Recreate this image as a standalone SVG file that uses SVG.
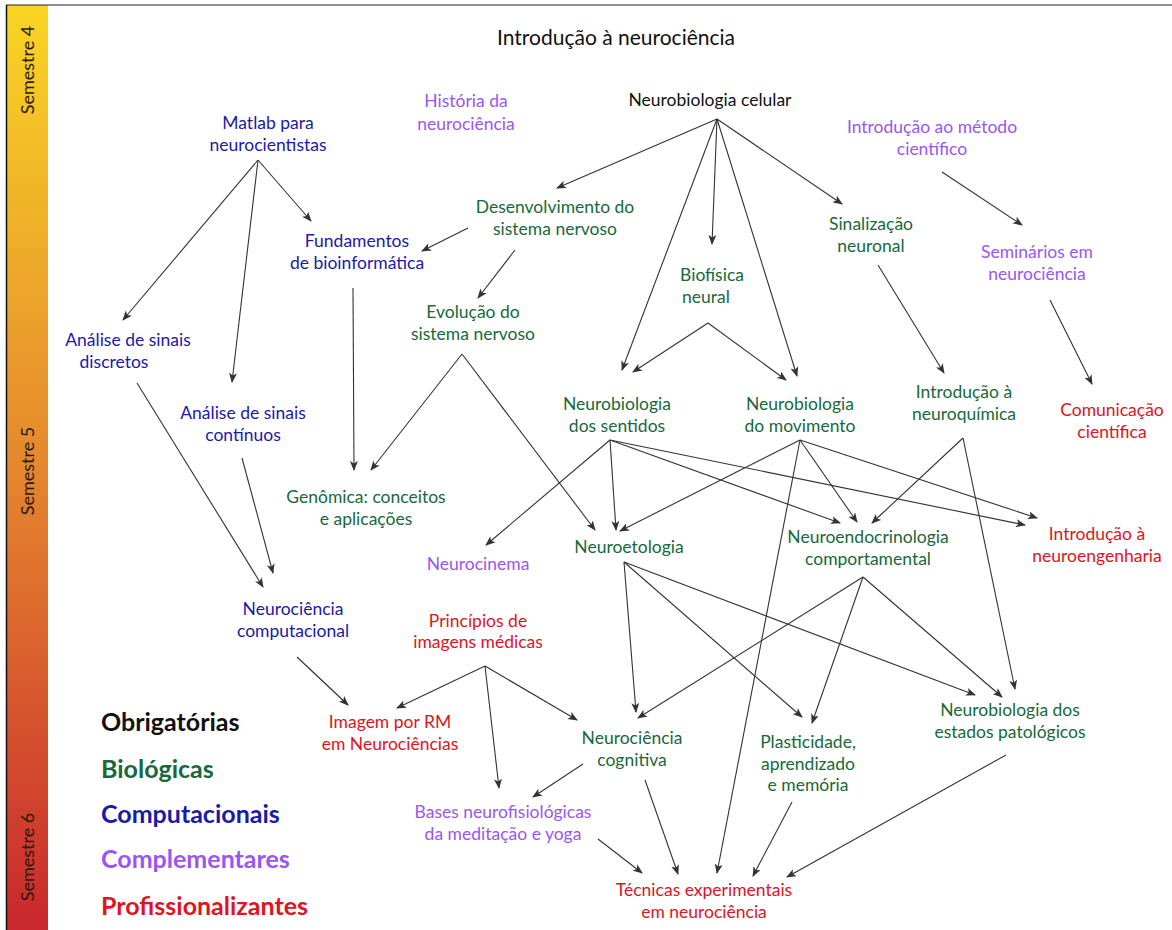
<svg xmlns="http://www.w3.org/2000/svg" width="1172" height="930" viewBox="0 0 1172 930">
<defs>
<linearGradient id="sem" x1="0" y1="0" x2="0" y2="1">
<stop offset="0" stop-color="#F9D524"/>
<stop offset="0.5" stop-color="#E5872E"/>
<stop offset="1" stop-color="#C9282D"/>
</linearGradient>
<marker id="ah" viewBox="0 0 10 8" refX="9" refY="4" markerWidth="10" markerHeight="8" markerUnits="userSpaceOnUse" orient="auto">
<path d="M0,0 L10,4 L0,8 L2.5,4 z" fill="#333"/>
</marker>
<style>
text{font-family:"Lato","Liberation Sans",sans-serif;font-size:17.5px;text-anchor:middle}
.t{fill:#111;font-size:21px}
.k{fill:#111}
.g{fill:#17693A}
.b{fill:#1A1AA8}
.p{fill:#9B55F5}
.r{fill:#E0141E}
.sem{fill:#2a1a10;font-size:18px}
.leg{font-size:25px;font-weight:bold;text-anchor:start}
#edges line{stroke:#333;stroke-width:1.1;marker-end:url(#ah)}
</style>
</defs>
<rect x="0" y="0" width="1172" height="930" fill="#fff"/>
<rect x="7" y="5" width="41" height="925" fill="url(#sem)"/>
<line x1="6.5" y1="5" x2="6.5" y2="930" stroke="#111" stroke-width="1.5"/>
<line x1="6" y1="5" x2="1172" y2="5" stroke="#222" stroke-width="1"/>
<text class="sem" transform="translate(34,70) rotate(-90)">Semestre 4</text>
<text class="sem" transform="translate(34,471) rotate(-90)">Semestre 5</text>
<text class="sem" transform="translate(34,857) rotate(-90)">Semestre 6</text>

<g id="edges">
<line x1="717" y1="119" x2="557" y2="188"/>
<line x1="717" y1="119" x2="622" y2="370"/>
<line x1="717" y1="119" x2="712" y2="244"/>
<line x1="717" y1="119" x2="797" y2="376"/>
<line x1="717" y1="119" x2="842" y2="204"/>
<line x1="258" y1="160" x2="123" y2="320"/>
<line x1="258" y1="160" x2="232" y2="382"/>
<line x1="258" y1="160" x2="311" y2="221"/>
<line x1="468" y1="228" x2="422" y2="251"/>
<line x1="515" y1="250" x2="478" y2="298"/>
<line x1="353" y1="288" x2="354" y2="470"/>
<line x1="462" y1="354" x2="371" y2="470"/>
<line x1="462" y1="354" x2="595" y2="530"/>
<line x1="708" y1="323" x2="633" y2="372"/>
<line x1="708" y1="323" x2="786" y2="380"/>
<line x1="878" y1="265" x2="944" y2="373"/>
<line x1="942" y1="172" x2="1022" y2="225"/>
<line x1="1050" y1="300" x2="1092" y2="384"/>
<line x1="137" y1="383" x2="263" y2="587"/>
<line x1="242" y1="458" x2="273" y2="573"/>
<line x1="610" y1="440" x2="486" y2="545"/>
<line x1="610" y1="440" x2="616" y2="530"/>
<line x1="610" y1="440" x2="840" y2="523"/>
<line x1="610" y1="440" x2="1025" y2="525"/>
<line x1="800" y1="440" x2="620" y2="531"/>
<line x1="800" y1="440" x2="857" y2="522"/>
<line x1="800" y1="440" x2="1037" y2="518"/>
<line x1="800" y1="440" x2="717" y2="873"/>
<line x1="963" y1="438" x2="872" y2="523"/>
<line x1="963" y1="438" x2="1015" y2="689"/>
<line x1="624" y1="562" x2="636" y2="712"/>
<line x1="624" y1="562" x2="802" y2="717"/>
<line x1="624" y1="562" x2="975" y2="695"/>
<line x1="863" y1="577" x2="638" y2="718"/>
<line x1="863" y1="577" x2="812" y2="723"/>
<line x1="863" y1="577" x2="1002" y2="697"/>
<line x1="297" y1="657" x2="348" y2="705"/>
<line x1="485" y1="666" x2="397" y2="708"/>
<line x1="485" y1="666" x2="499" y2="788"/>
<line x1="485" y1="666" x2="577" y2="720"/>
<line x1="583" y1="764" x2="533" y2="797"/>
<line x1="598" y1="839" x2="642" y2="873"/>
<line x1="645" y1="780" x2="678" y2="874"/>
<line x1="792" y1="802" x2="753" y2="876"/>
<line x1="1006" y1="755" x2="787" y2="877"/>
</g>

<g id="title"><text class="t" x="616" y="45">Introdução à neurociência</text></g>
<g id="celular"><text class="k" x="710" y="106">Neurobiologia celular</text></g>
<g id="historia"><text class="p" x="466" y="107">História da</text><text class="p" x="466" y="130">neurociência</text></g>
<g id="matlab"><text class="b" x="268" y="129">Matlab para</text><text class="b" x="268" y="151">neurocientistas</text></g>
<g id="metodo"><text class="p" x="932" y="133">Introdução ao método</text><text class="p" x="932" y="155">científico</text></g>
<g id="desenvolvimento"><text class="g" x="555" y="213">Desenvolvimento do</text><text class="g" x="555" y="235">sistema nervoso</text></g>
<g id="fundamentos"><text class="b" x="357" y="247">Fundamentos</text><text class="b" x="357" y="269">de bioinformática</text></g>
<g id="sinalizacao"><text class="g" x="871" y="230">Sinalização</text><text class="g" x="871" y="252">neuronal</text></g>
<g id="biofisica"><text class="g" x="712" y="281">Biofísica</text><text class="g" x="706" y="303">neural</text></g>
<g id="seminarios"><text class="p" x="1037" y="258">Seminários em</text><text class="p" x="1037" y="280">neurociência</text></g>
<g id="evolucao"><text class="g" x="473" y="318">Evolução do</text><text class="g" x="473" y="340">sistema nervoso</text></g>
<g id="discretos"><text class="b" x="128" y="346">Análise de sinais</text><text class="b" x="114" y="368">discretos</text></g>
<g id="sentidos"><text class="g" x="617" y="410">Neurobiologia</text><text class="g" x="617" y="432">dos sentidos</text></g>
<g id="movimento"><text class="g" x="800" y="410">Neurobiologia</text><text class="g" x="800" y="432">do movimento</text></g>
<g id="neuroquimica"><text class="g" x="964" y="398">Introdução à</text><text class="g" x="964" y="420">neuroquímica</text></g>
<g id="comunicacao"><text class="r" x="1112" y="416">Comunicação</text><text class="r" x="1112" y="438">científica</text></g>
<g id="continuos"><text class="b" x="243" y="419">Análise de sinais</text><text class="b" x="243" y="441">contínuos</text></g>
<g id="genomica"><text class="g" x="366" y="503">Genômica: conceitos</text><text class="g" x="366" y="525">e aplicações</text></g>
<g id="neuroetologia"><text class="g" x="629" y="553">Neuroetologia</text></g>
<g id="neuroendo"><text class="g" x="868" y="543">Neuroendocrinologia</text><text class="g" x="868" y="565">comportamental</text></g>
<g id="neuroengenharia"><text class="r" x="1097" y="540">Introdução à</text><text class="r" x="1097" y="562">neuroengenharia</text></g>
<g id="neurocinema"><text class="p" x="478" y="570">Neurocinema</text></g>
<g id="computacional"><text class="b" x="293" y="615">Neurociência</text><text class="b" x="293" y="637">computacional</text></g>
<g id="principios"><text class="r" x="478" y="627">Princípios de</text><text class="r" x="478" y="648">imagens médicas</text></g>
<g id="imagemrm"><text class="r" x="390" y="728">Imagem por RM</text><text class="r" x="390" y="750">em Neurociências</text></g>
<g id="cognitiva"><text class="g" x="632" y="744">Neurociência</text><text class="g" x="632" y="766">cognitiva</text></g>
<g id="plasticidade"><text class="g" x="808" y="748">Plasticidade,</text><text class="g" x="808" y="770">aprendizado</text><text class="g" x="808" y="791">e memória</text></g>
<g id="patologicos"><text class="g" x="1010" y="716">Neurobiologia dos</text><text class="g" x="1010" y="738">estados patológicos</text></g>
<g id="meditacao"><text class="p" x="503" y="818">Bases neurofisiológicas</text><text class="p" x="503" y="840">da meditação e yoga</text></g>
<g id="tecnicas"><text class="r" x="704" y="896">Técnicas experimentais</text><text class="r" x="704" y="918">em neurociência</text></g>

<g id="legend">
<text class="leg k" x="101" y="731">Obrigatórias</text>
<text class="leg g" x="101" y="778">Biológicas</text>
<text class="leg b" x="101" y="823">Computacionais</text>
<text class="leg p" x="101" y="868">Complementares</text>
<text class="leg r" x="101" y="915">Profissionalizantes</text>
</g>
</svg>
